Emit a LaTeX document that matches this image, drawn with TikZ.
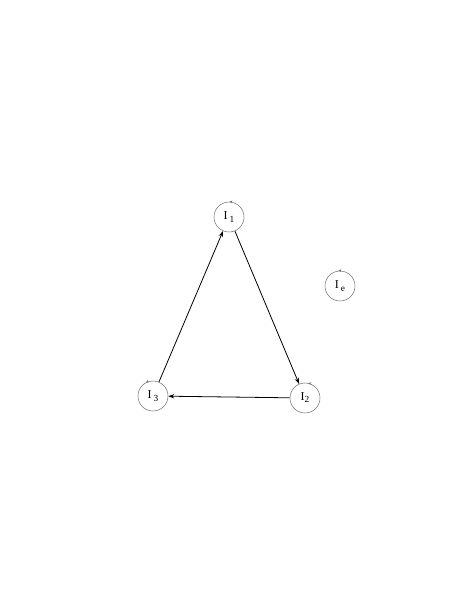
\documentclass[tikz,border=0pt]{standalone}
\usepackage{fontspec}
\setmainfont{Liberation Serif}
\usetikzlibrary{arrows.meta}
\newcommand{\lbl}[2]{I\raisebox{-2.2pt}{\,\scriptsize #2}}
\begin{document}
\begin{tikzpicture}[x=0.75pt,y=-0.75pt,
  state/.style={circle,draw=black!55,line width=0.4pt,minimum size=22.5pt,inner sep=0pt,font=\small},
  edge/.style={draw=black,line width=0.6pt,-{Stealth[length=4.5pt,width=3.2pt]}},
  loopmark/.style={draw=black!55,line width=0.3pt,-{Stealth[length=2.2pt,width=2pt]}}]
\useasboundingbox (0,0) rectangle (459,594);
\node[state] (i1) at (229,217) {\lbl{}{1}};
\node[state] (ie) at (340,286) {\lbl{}{e}};
\node[state] (i2) at (305,398) {I\raisebox{-1.5pt}{\scriptsize 2}};
\node[state] (i3) at (153,396) {\lbl{}{3}};
\draw[edge] (i3) -- (i1);
\draw[edge] (i1) -- (i2);
\draw[edge] (i2) -- (i3);
\foreach \n/\a in {i1/80,ie/88,i2/70,i3/110}{
  \draw[loopmark] (\n.\a) arc[start angle=\a,delta angle=8,radius=11.25pt];
}
\end{tikzpicture}
\end{document}
